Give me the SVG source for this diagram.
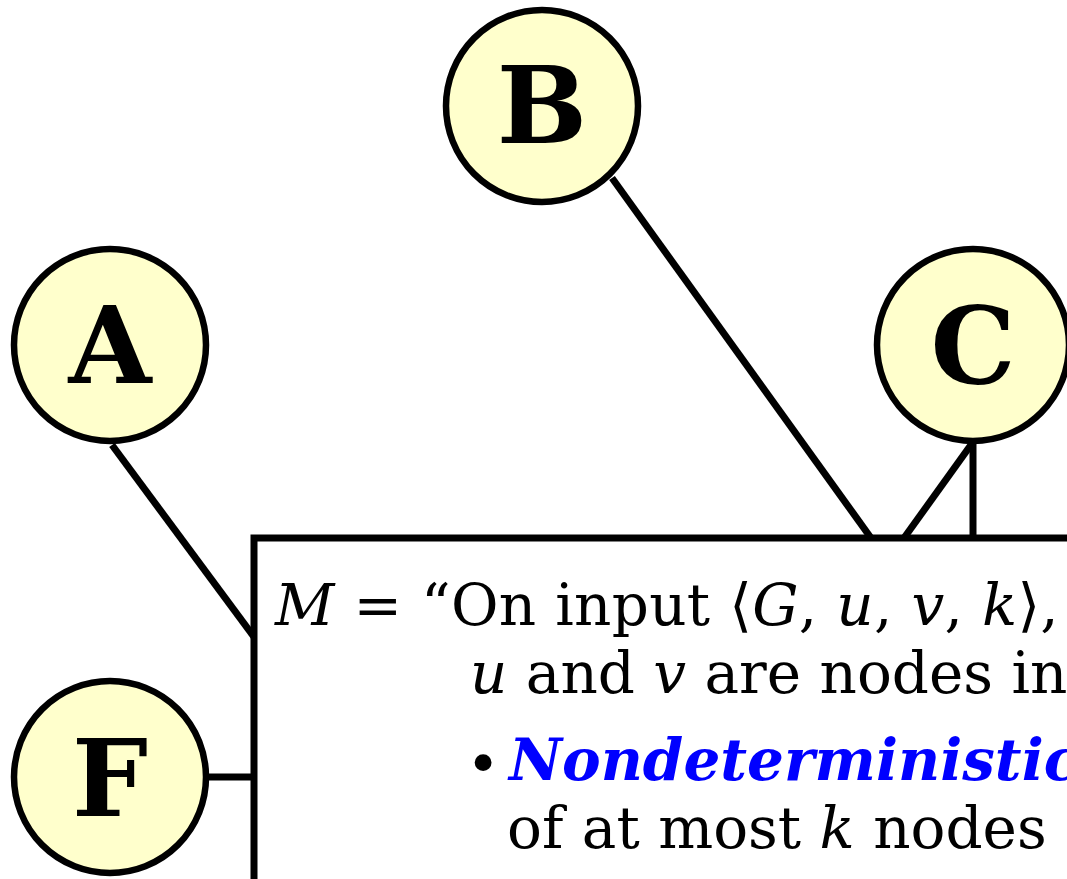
<svg xmlns="http://www.w3.org/2000/svg" width="1067" height="879" viewBox="0 0 1067 879">
<style>
.node circle{fill:#ffffcc;stroke:#000;stroke-width:6.5}
.lbl{font-family:"DejaVu Serif",serif;font-weight:bold;font-size:107px;text-anchor:middle;fill:#000}
.edge{stroke:#000;stroke-width:7;fill:none}
.t{font-family:"DejaVu Serif",serif;font-size:58px;fill:#000}
.i{font-style:italic}
.em{font-style:italic;font-weight:bold;fill:#0000ff}
</style>
<rect width="1067" height="879" fill="#fff"/>
<g id="connectors">
<line class="edge" x1="112" y1="445" x2="254" y2="637"/>
<line class="edge" x1="612" y1="178" x2="871" y2="538"/>
<line class="edge" x1="973" y1="442" x2="904" y2="538"/>
<line class="edge" x1="973" y1="442" x2="973" y2="538"/>
<line class="edge" x1="208" y1="777" x2="254" y2="777"/>
</g>
<g id="box">
<path class="edge" d="M254 885 V538 H1075"/>
<text class="t" x="275" y="625" letter-spacing="0.3"><tspan class="i">M</tspan> = “On input ⟨<tspan class="i">G</tspan>, <tspan class="i">u</tspan>, <tspan class="i">v</tspan>, <tspan class="i">k</tspan>⟩,</text>
<text class="t" x="470" y="693"><tspan class="i">u</tspan> and <tspan class="i">v</tspan> are nodes in</text>
<text class="t" x="466" y="784" font-size="28">•</text>
<text class="t" x="509" y="780"><tspan class="em">Nondeterministic</tspan></text>
<text class="t" x="507" y="848">of at most <tspan class="i">k</tspan> nodes</text>
</g>
<g id="A" class="node"><circle cx="110" cy="345" r="96"/><text class="lbl" x="110" y="383">A</text></g>
<g id="B" class="node"><circle cx="542" cy="106" r="96"/><text class="lbl" x="542" y="143">B</text></g>
<g id="C" class="node"><circle cx="973" cy="345" r="96"/><text class="lbl" x="973" y="383">C</text></g>
<g id="F" class="node"><circle cx="110" cy="777" r="96"/><text class="lbl" x="110" y="816">F</text></g>
</svg>
